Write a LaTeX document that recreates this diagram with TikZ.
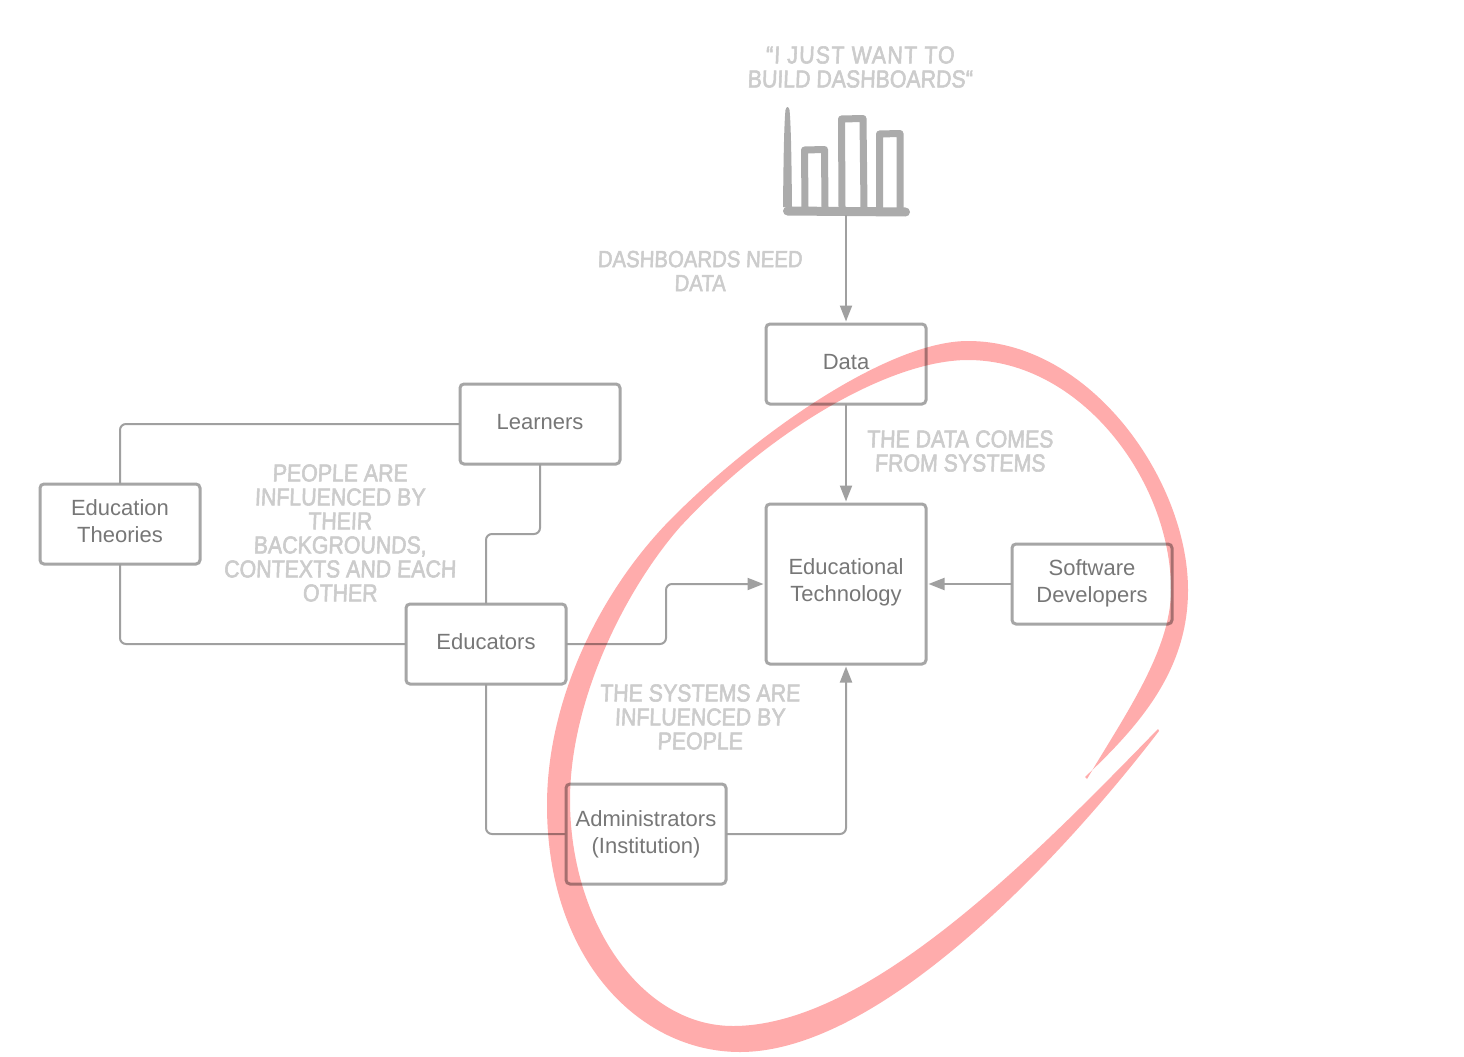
\documentclass[tikz,border=0pt]{standalone}
\usepackage{fontspec}
\setmainfont{Liberation Sans}
\newfontfamily\handfont[FakeStretch=0.87,FakeBold=2.2,FakeSlant=0.04]{Liberation Sans}
\usetikzlibrary{arrows.meta}
\definecolor{boxline}{HTML}{A6A6A6}
\definecolor{wire}{HTML}{A0A0A0}
\definecolor{boxtext}{HTML}{777777}
\definecolor{notetext}{HTML}{CCCCCC}
\definecolor{chartgrey}{HTML}{ABABAB}
\definecolor{ringpink}{HTML}{FFACAC}
\tikzset{
  box/.style={draw=boxline,line width=3pt,rounded corners=4pt,minimum width=160pt,minimum height=80pt,
    inner sep=0pt,outer sep=0pt,align=center,text=boxtext,font=\fontsize{22}{26.5}\selectfont,text depth=5.5pt},
  note/.style={align=center,text=notetext,inner sep=0pt,font=\handfont\fontsize{24.5}{24}\selectfont},
  wireline/.style={draw=wire,line width=2pt,rounded corners=6pt},
  arrowline/.style={wireline,-{Triangle[length=16pt,width=12pt]},shorten >=2.5pt},
  chartline/.style={draw=chartgrey,line width=7pt,line join=round,line cap=round}
}
\begin{document}
\begin{tikzpicture}[x=1pt,y=-1pt]
\fill[white] (0,0) rectangle (1464,1057);
\useasboundingbox (0,0) rectangle (1464,1057);
% chart
\fill[chartgrey] (783,207) .. controls (783.5,160) and (784,125) .. (785.5,110) .. controls (786.5,106) and (788.5,106) .. (789.5,110) .. controls (791,125) and (791.5,160) .. (792,207) -- cycle;
\draw[chartline,line width=9pt] (787.5,211) -- (905.5,212);
\draw[chartline] (805,208) -- (804.5,150) -- (824.5,149.5) -- (825,208);
\draw[chartline] (842,208) -- (841.5,119) -- (863,118.5) -- (864,208);
\draw[chartline] (879.5,208) -- (879.5,134) -- (900,133.5) -- (900,208);
\coordinate (chart) at (846,215);
% boxes
\node[box,text depth=3.5pt] (data) at (846,364) {Data};
\node[box,text depth=3.5pt] (learners) at (540,424) {Learners};
\node[box] (theories) at (120,524) {Education\\Theories};
\node[box] (educators) at (486,644) {Educators};
\node[box,minimum height=160pt,text depth=7.5pt] (tech) at (846,584) {Educational\\Technology};
\node[box] (devs) at (1092,584) {Software\\Developers};
\node[box,minimum height=100pt,text depth=3.5pt] (admin) at (646,834) {Administrators\\(Institution)};
% connectors
\draw[arrowline] (chart) -- (data.north);
\draw[arrowline] (data.south) -- (tech.north);
\draw[arrowline] (devs.west) -- (tech.east);
\draw[arrowline] (educators.east) -- ++(100,0) |- (tech.west);
\draw[arrowline] (admin.east) -| (tech.south);
\draw[wireline] (educators.south) |- (admin.west);
\draw[wireline] (learners.south) -- ++(0,70) -| (educators.north);
\draw[wireline] (learners.west) -| (theories.north);
\draw[wireline] (theories.south) |- (educators.west);
% notes
\node[note] (n1) at (860,67) {{\addfontfeature{LetterSpace=5}“I JUST WANT TO}\\BUILD DASHBOARDS“};
\node[note,font=\handfont\fontsize{23.4}{24}\selectfont] (n2) at (700,271) {DASHBOARDS NEED\\DATA};
\node[note] (n3) at (960,451) {THE DATA COMES\\FROM SYSTEMS};
\node[note] (n4) at (340,533) {PEOPLE ARE\\INFLUENCED BY\\THEIR\\BACKGROUNDS,\\CONTEXTS AND EACH\\OTHER};
\node[note] (n5) at (700,717) {THE SYSTEMS ARE\\INFLUENCED BY\\PEOPLE};
% ring
\begin{scope}[blend mode=multiply]
\fill[ringpink] (1085,777)
  .. controls (1140,725) and (1188,670) .. (1188,590)
  .. controls (1188,480) and (1090,341) .. (968,341)
  .. controls (890,341) and (760,430) .. (673,517)
  .. controls (600,590) and (547,700) .. (547,805)
  .. controls (547,960) and (640,1052) .. (740,1052)
  .. controls (880,1052) and (1060,860) .. (1159,731)
  -- (1158,729)
  .. controls (1040,850) and (870,1026) .. (733,1026)
  .. controls (640,1026) and (570,920) .. (570,800)
  .. controls (570,700) and (625,590) .. (680,527)
  .. controls (770,430) and (890,360) .. (968,360)
  .. controls (1080,360) and (1171,480) .. (1171,590)
  .. controls (1171,650) and (1125,715) .. (1087,779)
  -- cycle;
\end{scope}
\end{tikzpicture}
\end{document}
